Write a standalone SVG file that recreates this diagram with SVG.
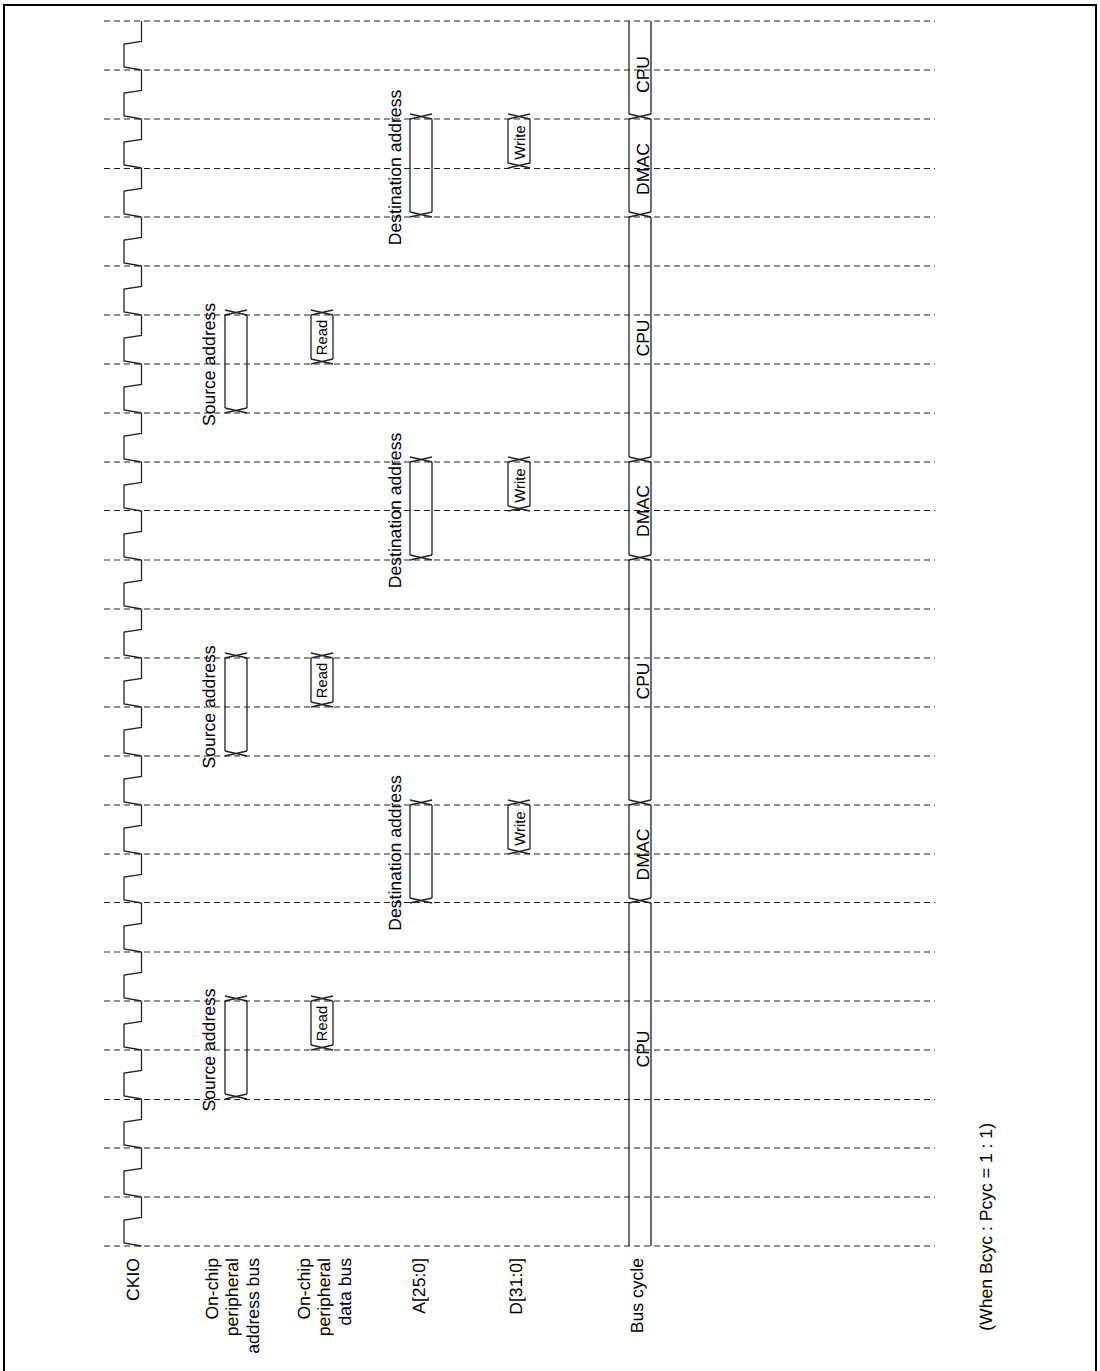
<svg xmlns="http://www.w3.org/2000/svg" width="1100" height="1371" viewBox="0 0 1100 1371">
<style>
text{font-family:"Liberation Sans",Arial,sans-serif;font-size:17.6px;fill:#000;text-anchor:end;text-rendering:geometricPrecision}
.s{font-size:14.8px;text-anchor:middle}
.m{text-anchor:middle}
.d{stroke:#222;stroke-width:1.2;stroke-dasharray:6 4;fill:none}
.w{stroke:#222;stroke-width:1.3;fill:none}
</style>
<defs>
<path id="x" class="w" d="M0 5L22 0M0 0L22 5"/>
<path id="tick" class="w" d="M141.5 0V20.5L124 23V46L141.5 49"/>
</defs>
<rect width="1100" height="1371" fill="#fff"/>
<path id="frame" d="M4 1371V5H1096V1371" fill="none" stroke="#000" stroke-width="2"/>
<g id="connectors">
<path class="d" d="M104 21H935M104 70H935M104 119H935M104 168.5H935M104 217H935M104 266H935M104 315H935M104 364H935M104 413H935M104 462H935M104 510.5H935M104 560H935M104 609H935M104 658H935M104 707H935M104 756H935M104 805H935M104 854H935M104 902.5H935M104 952H935M104 1001H935M104 1050H935M104 1099.5H935M104 1148H935M104 1197H935M104 1246H935"/>
</g>
<g id="CKIO">
<use href="#tick" y="21"/><use href="#tick" y="70"/><use href="#tick" y="119"/><use href="#tick" y="168"/><use href="#tick" y="217"/><use href="#tick" y="266"/><use href="#tick" y="315"/><use href="#tick" y="364"/><use href="#tick" y="413"/><use href="#tick" y="462"/><use href="#tick" y="511"/><use href="#tick" y="560"/><use href="#tick" y="609"/><use href="#tick" y="658"/><use href="#tick" y="707"/><use href="#tick" y="756"/><use href="#tick" y="805"/><use href="#tick" y="854"/><use href="#tick" y="903"/><use href="#tick" y="952"/><use href="#tick" y="1001"/><use href="#tick" y="1050"/><use href="#tick" y="1099"/><use href="#tick" y="1148"/><use href="#tick" y="1197"/>
<text transform="translate(139 1258) rotate(-90)">CKIO</text>
</g>
<g id="source-address">
<path class="w" d="M225 315V408M247 315V408M225 658V751M247 658V751M225 1001V1094M247 1001V1094"/>
<use href="#x" x="225" y="310"/><use href="#x" x="225" y="408"/><use href="#x" x="225" y="653"/><use href="#x" x="225" y="751"/><use href="#x" x="225" y="996"/><use href="#x" x="225" y="1094"/>
<text class="m" transform="translate(215.3 364.5) rotate(-90)">Source address</text>
<text class="m" transform="translate(215.3 707) rotate(-90)">Source address</text>
<text class="m" transform="translate(215.3 1050) rotate(-90)">Source address</text>
<text transform="translate(218 1258) rotate(-90)">On-chip</text>
<text transform="translate(238 1258) rotate(-90)">peripheral</text>
<text transform="translate(259 1258) rotate(-90)">address bus</text>
</g>
<g id="read-data">
<path class="w" d="M311 315V359M333 315V359M311 658V702M333 658V702M311 1001V1045M333 1001V1045"/>
<use href="#x" x="311" y="310"/><use href="#x" x="311" y="359"/><use href="#x" x="311" y="653"/><use href="#x" x="311" y="702"/><use href="#x" x="311" y="996"/><use href="#x" x="311" y="1045"/>
<text class="s" transform="translate(327.3 337.5) rotate(-90)">Read</text>
<text class="s" transform="translate(327.3 680.5) rotate(-90)">Read</text>
<text class="s" transform="translate(327.3 1023.5) rotate(-90)">Read</text>
<text transform="translate(310 1258) rotate(-90)">On-chip</text>
<text transform="translate(330 1258) rotate(-90)">peripheral</text>
<text transform="translate(351 1258) rotate(-90)">data bus</text>
</g>
<g id="destination-address">
<path class="w" d="M410 119V212M432 119V212M410 462V555M432 462V555M410 805V898M432 805V898"/>
<use href="#x" x="410" y="114"/><use href="#x" x="410" y="212"/><use href="#x" x="410" y="457"/><use href="#x" x="410" y="555"/><use href="#x" x="410" y="800"/><use href="#x" x="410" y="898"/>
<text class="m" transform="translate(400.5 167.5) rotate(-90)">Destination address</text>
<text class="m" transform="translate(400.5 510.5) rotate(-90)">Destination address</text>
<text class="m" transform="translate(400.5 853) rotate(-90)">Destination address</text>
<text transform="translate(425 1258) rotate(-90)">A[25:0]</text>
</g>
<g id="write-data">
<path class="w" d="M508 119V163M530 119V163M508 462V506M530 462V506M508 805V849M530 805V849"/>
<use href="#x" x="508" y="114"/><use href="#x" x="508" y="163"/><use href="#x" x="508" y="457"/><use href="#x" x="508" y="506"/><use href="#x" x="508" y="800"/><use href="#x" x="508" y="849"/>
<text class="s" transform="translate(525 142.5) rotate(-90)">Write</text>
<text class="s" transform="translate(525 485.5) rotate(-90)">Write</text>
<text class="s" transform="translate(525 828.5) rotate(-90)">Write</text>
<text transform="translate(522 1258) rotate(-90)">D[31:0]</text>
</g>
<g id="bus-cycle">
<path class="w" d="M629 21V114M651 21V114M629 119V212M651 119V212M629 217V457M651 217V457M629 462V555M651 462V555M629 560V800M651 560V800M629 805V898M651 805V898M629 903V1246M651 903V1246"/>
<use href="#x" x="629" y="114"/><use href="#x" x="629" y="212"/><use href="#x" x="629" y="457"/><use href="#x" x="629" y="555"/><use href="#x" x="629" y="800"/><use href="#x" x="629" y="898"/>
<text class="m" transform="translate(649 74.5) rotate(-90)">CPU</text>
<text class="m" transform="translate(649 169) rotate(-90)">DMAC</text>
<text class="m" transform="translate(649 338) rotate(-90)">CPU</text>
<text class="m" transform="translate(649 511) rotate(-90)">DMAC</text>
<text class="m" transform="translate(649 681) rotate(-90)">CPU</text>
<text class="m" transform="translate(649 854.5) rotate(-90)">DMAC</text>
<text class="m" transform="translate(649 1049) rotate(-90)">CPU</text>
<text transform="translate(643 1258) rotate(-90)">Bus cycle</text>
</g>
<g id="note">
<text transform="translate(992 1123) rotate(-90)">(When Bcyc : Pcyc = 1 : 1)</text>
</g>
</svg>
